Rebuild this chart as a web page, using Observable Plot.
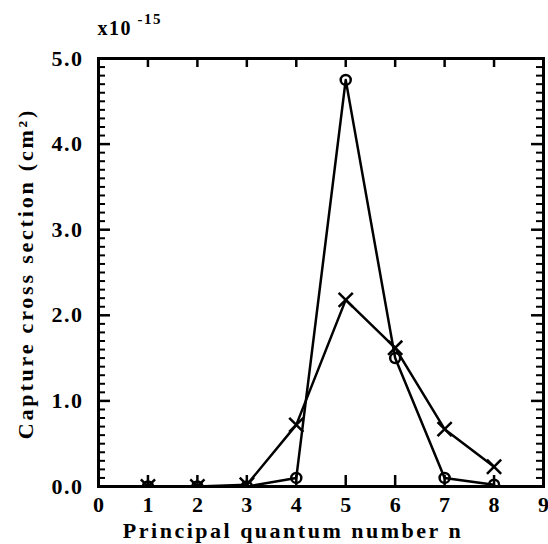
<!DOCTYPE html>
<html><head><meta charset="utf-8">
<script src="https://cdn.jsdelivr.net/npm/d3@7"></script>
<script src="https://cdn.jsdelivr.net/npm/@observablehq/plot@0.6"></script>
<style>body{margin:0;background:#fff}</style>
</head><body><div id="chart"></div>
<script>
// Data
const nValues = [1, 2, 3, 4, 5, 6, 7, 8];
const sigmaCircle = [0, 0, 0, 0.10, 4.75, 1.50, 0.10, 0.02];
const sigmaCross = [0, 0, 0.02, 0.72, 2.18, 1.62, 0.67, 0.23];
const xTicks = [0, 1, 2, 3, 4, 5, 6, 7, 8, 9];
const yMajor = [0, 1, 2, 3, 4, 5];
const yMinor = d3.range(0, 50).map(i => i / 10).filter(v => Math.abs(v - Math.round(v)) > 1e-9);
const xLabel = "Principal quantum number n";
const yLabel = "Capture cross section (cm\u00B2)";
const scaleText = "x10";
const scaleExp = "-15";

const circleData = nValues.map((v, i) => ({n: v, s: sigmaCircle[i]}));
const crossData = nValues.map((v, i) => ({n: v, s: sigmaCross[i]}));

const W = 548, H = 544, ML = 98, MR = 5, MT = 58, MB = 58;
const FW = W - ML - MR, FH = H - MT - MB;

const chart = Plot.plot({
  width: W, height: H,
  marginLeft: ML, marginRight: MR, marginTop: MT, marginBottom: MB,
  x: {domain: [0, 9]},
  y: {domain: [0, 5]},
  style: {fontFamily: "'Liberation Serif', 'Times New Roman', serif", fontWeight: "bold", fontSize: "22px", color: "black", background: "white", letterSpacing: "1.5px"},
  marks: [
    // inward ticks
    Plot.tickY(yMajor, {y: d => d, insetRight: FW - 12, strokeWidth: 2.5, stroke: "black"}),
    Plot.tickY(yMajor, {y: d => d, insetLeft: FW - 12, strokeWidth: 2.5, stroke: "black"}),
    Plot.tickY(yMinor, {y: d => d, insetRight: FW - 7, strokeWidth: 2, stroke: "black"}),
    Plot.tickY(yMinor, {y: d => d, insetLeft: FW - 7, strokeWidth: 2, stroke: "black"}),
    Plot.tickX(xTicks, {x: d => d, insetTop: FH - 11, strokeWidth: 2.5, stroke: "black"}),
    Plot.tickX(xTicks, {x: d => d, insetBottom: FH - 9, strokeWidth: 2.5, stroke: "black"}),
    Plot.axisY(yMajor, {tickSize: 0, tickPadding: 15, tickFormat: d3.format(".1f"), label: null, fontSize: 22}),
    Plot.axisX(xTicks, {tickSize: 0, tickPadding: 10, label: null, fontSize: 22}),
    Plot.frame({stroke: "black", strokeWidth: 3}),
    // series
    Plot.line(crossData, {x: "n", y: "s", stroke: "black", strokeWidth: 2.5, clip: true}),
    Plot.line(circleData, {x: "n", y: "s", stroke: "black", strokeWidth: 2.5, clip: true}),
    Plot.dot(crossData, {x: "n", y: "s", symbol: "times", r: 6.5, stroke: "black", strokeWidth: 2.5, clip: true}),
    Plot.dot(circleData, {x: "n", y: "s", symbol: "circle", r: 5, stroke: "black", fill: "none", strokeWidth: 2.5, clip: true}),
    // labels
    Plot.text([xLabel], {text: d => d, frameAnchor: "bottom", textAnchor: "middle", dx: -28, dy: 44, lineAnchor: "middle", fontSize: 22}),
    Plot.text([yLabel], {text: d => d, frameAnchor: "left", textAnchor: "middle", rotate: -90, dx: -73, dy: 1, lineAnchor: "middle", fontSize: 22}),
    Plot.text([scaleText], {text: d => d, frameAnchor: "top-left", textAnchor: "start", lineAnchor: "bottom", dx: -1, dy: -24, fontSize: 20}),
    Plot.text([scaleExp], {text: d => d, frameAnchor: "top-left", textAnchor: "start", lineAnchor: "bottom", dx: 39, dy: -35, fontSize: 15})
  ]
});
document.getElementById("chart").appendChild(chart);
// letter spacing for axis titles and x tick labels
chart.querySelectorAll("text").forEach(t => {
  if (t.textContent === xLabel) t.style.letterSpacing = "2.5px";
  if (t.textContent === yLabel) t.style.letterSpacing = "2.8px";
});
chart.querySelectorAll('g[aria-label="x-axis tick label"] text').forEach(t => { t.style.letterSpacing = "0px"; });
</script>
</body></html>
